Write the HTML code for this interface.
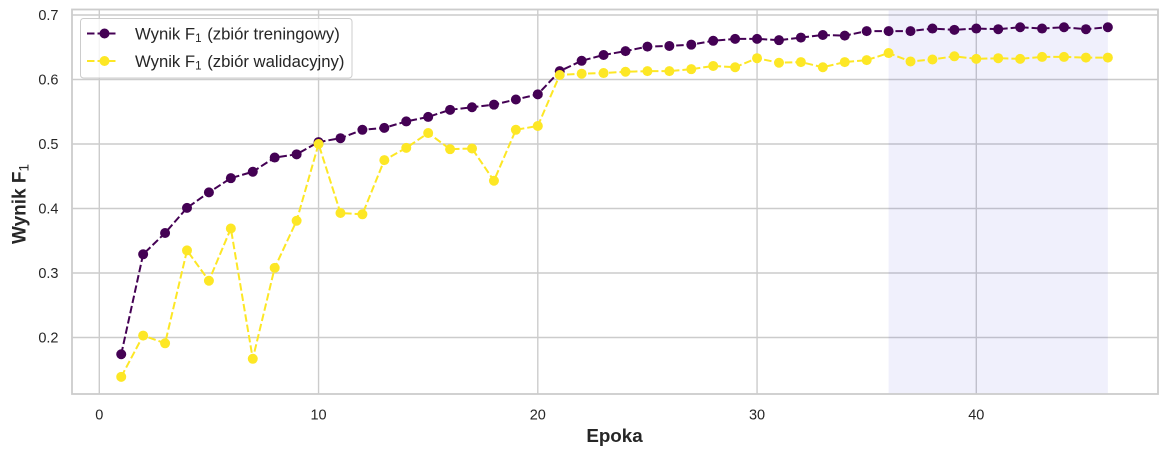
<!DOCTYPE html>
<html lang="pl">
<head>
<meta charset="utf-8">
<title>Wynik F1</title>
<style>
html,body{margin:0;padding:0;background:#fff;width:1167px;height:455px;overflow:hidden}
svg{display:block;font-family:"Liberation Sans",Arial,sans-serif}
</style>
</head>
<body>
<svg id="chart" width="1167" height="455" viewBox="0 0 1167 455" xmlns="http://www.w3.org/2000/svg">
  <rect x="0" y="0" width="1167" height="455" fill="#fff"/>
  <g id="grid"></g>
  <g id="span"></g>
  <g id="spines"></g>
  <g id="series"></g>
  <g id="ticks"></g>
  <text x="614.5" y="442" font-size="18.8" font-weight="700" fill="#262626" text-anchor="middle">Epoka</text>
  <text transform="translate(25.5,204) rotate(-90)" font-size="19" font-weight="700" fill="#262626" text-anchor="middle">Wynik F<tspan font-size="13.5" font-weight="400" dy="3">1</tspan></text>
  <g>
    <rect x="80.5" y="18.5" width="271.5" height="59.5" rx="3" fill="#fff" fill-opacity="0.8" stroke="#cccccc" stroke-width="1"/>
    <g>
      <line x1="87" y1="33.5" x2="117" y2="33.5" stroke="#440154" stroke-width="2" stroke-dasharray="7.5,3"/>
      <circle cx="104.5" cy="33.5" r="5" fill="#440154"/>
      <text x="135" y="39.5" font-size="16.7" fill="#262626">Wynik F<tspan font-size="11.6" dy="2.5">1</tspan><tspan dy="-2.5" dx="1"> (zbiór treningowy)</tspan></text>
    </g>
    <g>
      <line x1="87" y1="61" x2="117" y2="61" stroke="#fde725" stroke-width="2" stroke-dasharray="7.5,3"/>
      <circle cx="104.5" cy="61" r="5" fill="#fde725"/>
      <text x="135" y="67" font-size="16.7" fill="#262626">Wynik F<tspan font-size="11.6" dy="2.5">1</tspan><tspan dy="-2.5" dx="1"> (zbiór walidacyjny)</tspan></text>
    </g>
  </g>
</svg>
<script>
const epochs = [1,2,3,4,5,6,7,8,9,10,11,12,13,14,15,16,17,18,19,20,21,22,23,24,25,26,27,28,29,30,31,32,33,34,35,36,37,38,39,40,41,42,43,44,45,46];
const trainF1 = [0.174,0.329,0.362,0.401,0.425,0.447,0.457,0.479,0.484,0.503,0.509,0.522,0.525,0.535,0.542,0.553,0.557,0.561,0.569,0.577,0.613,0.629,0.638,0.644,0.651,0.652,0.654,0.660,0.663,0.663,0.661,0.665,0.669,0.668,0.675,0.675,0.675,0.679,0.677,0.679,0.678,0.681,0.679,0.681,0.678,0.681];
const valF1 = [0.139,0.203,0.191,0.335,0.288,0.369,0.167,0.308,0.381,0.500,0.393,0.391,0.475,0.494,0.517,0.492,0.493,0.443,0.522,0.528,0.607,0.609,0.610,0.612,0.613,0.613,0.616,0.621,0.619,0.633,0.626,0.627,0.619,0.627,0.630,0.641,0.628,0.631,0.636,0.632,0.633,0.632,0.635,0.635,0.634,0.634];
const xTickValues = [0,10,20,30,40];
const yTickValues = [0.2,0.3,0.4,0.5,0.6,0.7];
const highlightRange = [36,46];

const NS = 'http://www.w3.org/2000/svg';
const plot = {left:72, right:1158, top:9.5, bottom:394};
function xScale(v){ return 99.3 + v * 21.925; }
function yScale(v){ return 15 + (0.7 - v) * 645; }
function make(tag, attrs, parent){
  const el = document.createElementNS(NS, tag);
  for (const k in attrs) el.setAttribute(k, attrs[k]);
  parent.appendChild(el);
  return el;
}
const grid = document.getElementById('grid');
const ticks = document.getElementById('ticks');
const spanLayer = document.getElementById('span');
const spines = document.getElementById('spines');
const seriesLayer = document.getElementById('series');

xTickValues.forEach(function(t){
  const x = xScale(t);
  const line = make('line', {x1:x, x2:x, y1:plot.top, y2:plot.bottom, stroke:'#cccccc', 'stroke-width':1.4}, grid);
  
  
  const label = make('text', {x:x, y:419.5, 'font-size':14.5, fill:'#262626', 'text-anchor':'middle'}, ticks);
  
  
  label.textContent = String(t);
});
yTickValues.forEach(function(t){
  const y = yScale(t);
  const line = make('line', {x1:plot.left, x2:plot.right, y1:y, y2:y, stroke:'#cccccc', 'stroke-width':1.4}, grid);
  
  
  const label = make('text', {x:58.5, y:y + 5, 'font-size':14.5, fill:'#262626', 'text-anchor':'end'}, ticks);
  
  
  label.textContent = t.toFixed(1);
});

const spanRect = make('rect', {x:xScale(highlightRange[0]), y:plot.top, width:xScale(highlightRange[1]) - xScale(highlightRange[0]), height:plot.bottom - plot.top, fill:'#0000cc', 'fill-opacity':0.06}, spanLayer);



const frame = make('rect', {x:plot.left, y:plot.top, width:plot.right - plot.left, height:plot.bottom - plot.top, fill:'none', stroke:'#cccccc', 'stroke-width':1.8}, spines);



function drawSeries(values, color, name){
  const g = make('g', {}, seriesLayer);
  
  
  const pts = values.map(function(v, i){ return xScale(epochs[i]).toFixed(2) + ',' + yScale(v).toFixed(2); }).join(' ');
  const line = make('polyline', {points:pts, fill:'none', stroke:color, 'stroke-width':2, 'stroke-dasharray':'7.5,3', 'stroke-linejoin':'round'}, g);
  
  
  values.forEach(function(v, i){
    const c = make('circle', {cx:xScale(epochs[i]), cy:yScale(v), r:5, fill:color}, g);
    
    
  });
}
drawSeries(trainF1, '#440154', 'train-series');
drawSeries(valF1, '#fde725', 'validation-series');
</script>
</body>
</html>
